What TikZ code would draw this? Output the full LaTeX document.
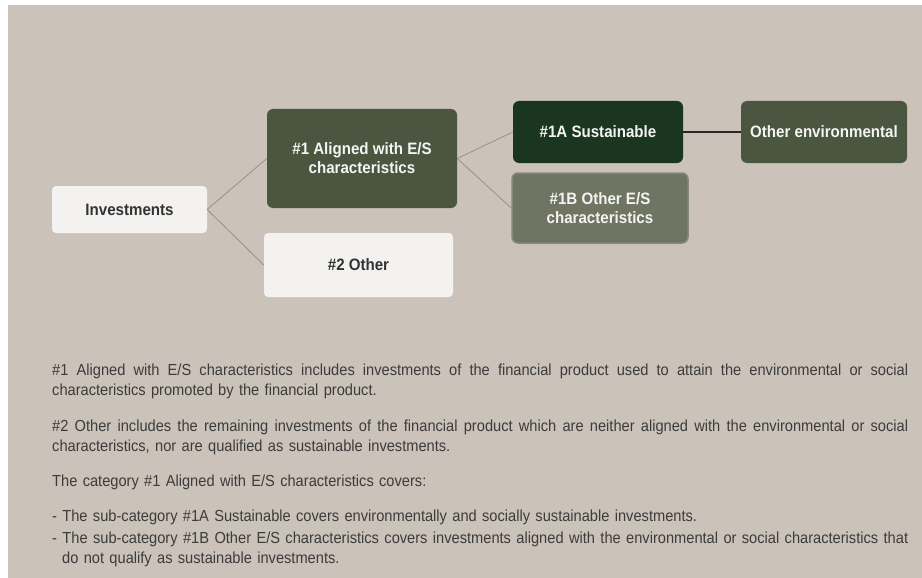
\documentclass[tikz,border=0pt]{standalone}
\usepackage{fontspec}
\setmainfont{Liberation Sans}[FakeStretch=0.915]
\definecolor{bgc}{HTML}{CBC2B9}
\definecolor{lightbox}{HTML}{F3F2F0}
\definecolor{olive}{HTML}{4A5640}
\definecolor{darkgreen}{HTML}{1A3520}
\definecolor{greygreen}{HTML}{6F7562}
\definecolor{linec}{HTML}{9C8F85}
\definecolor{darkline}{HTML}{2E2622}
\definecolor{txtdark}{HTML}{333333}
\definecolor{bodytxt}{HTML}{3C3C3C}
\definecolor{txtlight}{HTML}{F4F4F2}
\tikzset{
  box/.style={rectangle, inner sep=2pt, align=center,
    font=\fontsize{16.5}{19}\selectfont\bfseries},
  lightnode/.style={box, fill=lightbox, text=txtdark, rounded corners=4pt},
  darknode/.style={box, text=txtlight, rounded corners=6pt},
  conn/.style={draw=linec, line width=0.8pt},
  thickconn/.style={draw=darkline, line width=2pt},
  para/.style={anchor=base west, inner sep=0pt, text width=856pt, align=left,
    text=bodytxt, font=\fontsize{16}{20.5}\selectfont}
}
\newcommand{\jline}[1]{{\spaceskip=\fontdimen2\font plus 1fil minus \fontdimen4\font\relax\makebox[856pt][s]{#1}}}
\begin{document}
\begin{tikzpicture}[x=1pt,y=-1pt]
\useasboundingbox (0,0) rectangle (922,578);
\fill[white] (0,0) rectangle (922,578);
\fill[bgc] (8,5) rectangle (922,578);

\node[lightnode, minimum width=155pt, minimum height=47pt] (inv) at (129.5,209.5) {Investments};
\node[darknode, fill=olive, minimum width=190pt, minimum height=99pt] (a1) at (362,158.5) {\#1 Aligned with E/S\\characteristics};
\node[lightnode, minimum width=189pt, minimum height=64pt] (o2) at (358.5,265) {\#2 Other};
\node[darknode, fill=darkgreen, minimum width=170pt, minimum height=62pt] (s1a) at (598,132) {\#1A Sustainable};
\node[darknode, fill=olive, minimum width=166pt, minimum height=62pt] (env) at (824,132) {Other environmental};
\node[darknode, fill=greygreen, draw=greygreen!75!bgc, line width=1.5pt, minimum width=176pt, minimum height=70pt] (b1b) at (600,208) {\#1B Other E/S\\characteristics};

\draw[conn] (inv.east) -- (a1.west);
\draw[conn] (inv.east) -- (o2.west);
\draw[conn] (a1.east) -- (s1a.west);
\draw[conn] (a1.east) -- (b1b.west);
\draw[thickconn] (s1a.east) -- (env.west);

\node[para] (p1) at (52,375) {\jline{\#1 Aligned with E/S characteristics includes investments of the financial product used to attain the environmental or social}\\
characteristics promoted by the financial product.};
\node[para] (p2) at (52,431) {\jline{\#2 Other includes the remaining investments of the financial product which are neither aligned with the environmental or social}\\
characteristics, nor are qualified as sustainable investments.};
\node[para] (p3) at (52,486.5) {The category \#1 Aligned with E/S characteristics covers:};
\node[para] (p4) at (52,521) {- The sub-category \#1A Sustainable covers environmentally and socially sustainable investments.};
\node[para] (p5) at (52,543) {\jline{- The sub-category \#1B Other E/S characteristics covers investments aligned with the environmental or social characteristics that}\\
\hspace*{10pt}do not qualify as sustainable investments.};
\end{tikzpicture}
\end{document}
